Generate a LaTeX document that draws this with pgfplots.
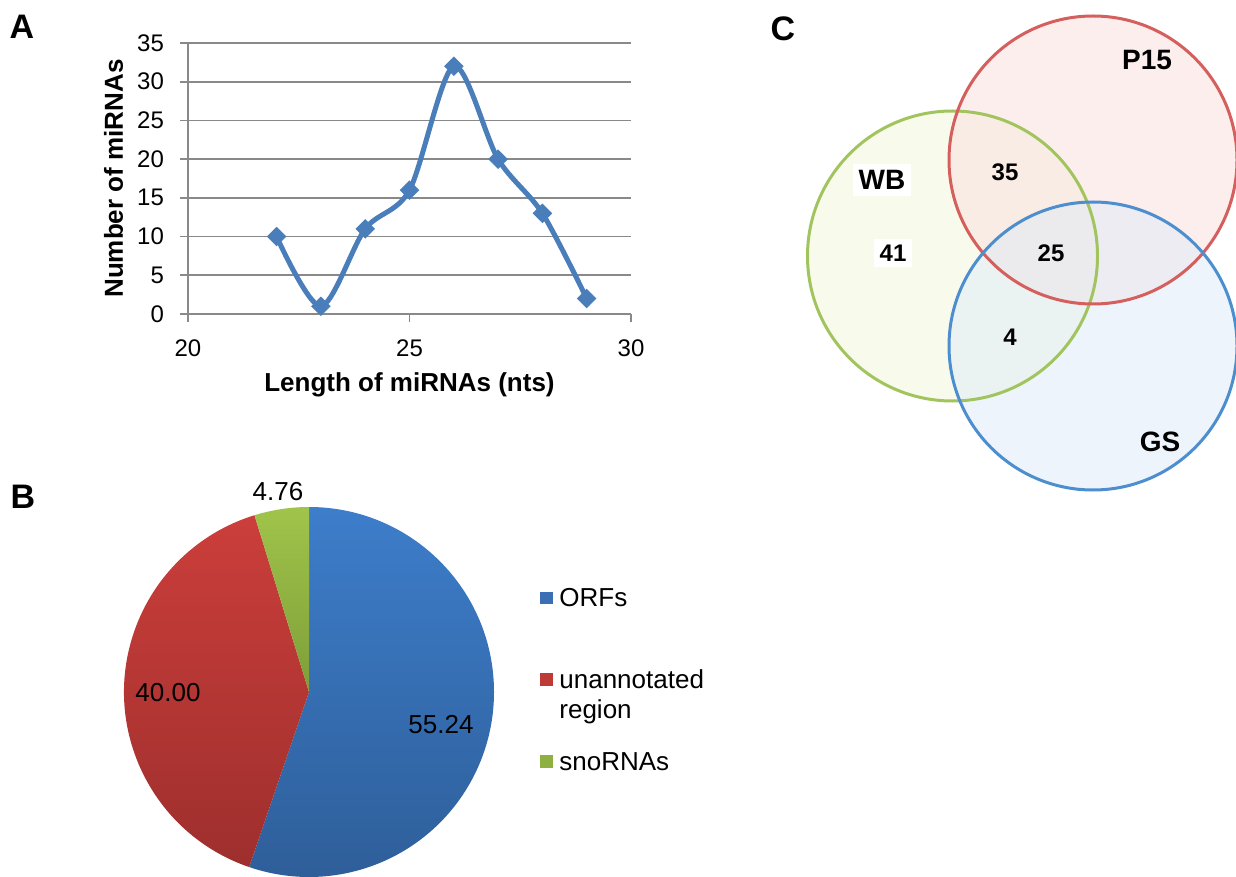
\documentclass[border=0pt]{standalone}
\usepackage{fontspec}
\setmainfont{Liberation Sans}
\usepackage{pgfplots}
\pgfplotsset{compat=1.18}
\definecolor{lineblue}{HTML}{4A7EBB}
\definecolor{gridgray}{HTML}{898989}
\definecolor{pieblueT}{HTML}{3D7DCA}
\definecolor{pieblueB}{HTML}{2E5E99}
\definecolor{pieredT}{HTML}{CB3E3B}
\definecolor{pieredB}{HTML}{9E2F2D}
\definecolor{piegreenT}{HTML}{A0C44B}
\definecolor{piegreenB}{HTML}{7E9E38}
\definecolor{legblue}{HTML}{3A6FB5}
\definecolor{legred}{HTML}{BE3A37}
\definecolor{leggreen}{HTML}{8DB040}
\definecolor{vred}{HTML}{D45F5C}
\definecolor{vgreen}{HTML}{A2C45E}
\definecolor{vblue}{HTML}{4D8ECF}
\definecolor{vredf}{HTML}{FADEDC}
\definecolor{vgreenf}{HTML}{F2F8DA}
\definecolor{vbluef}{HTML}{DDEAF8}
\begin{document}
\begin{tikzpicture}
\path[use as bounding box] (0,0) rectangle (618pt,-438.5pt);
% pie data (percent)
\def\vORF{55.24}\def\vUNA{40.00}\def\vSNO{4.76}
\pgfmathsetmacro{\aA}{90-3.6*\vORF}
\pgfmathsetmacro{\aB}{\aA-3.6*\vUNA}
\pgfmathsetmacro{\aC}{\aB-3.6*\vSNO}
% Panel A
\begin{axis}[
 at={(94pt,-157pt)}, anchor=south west,
 scale only axis, width=221.5pt, height=135.5pt,
 xmin=20, xmax=30, ymin=0, ymax=35,
 xtick={20,25,30}, ytick={0,5,...,35},
 axis x line*=bottom, axis y line*=left,
 axis line style={gridgray, line width=0.8pt},
 tick style={gridgray, line width=0.8pt},
 tick align=outside, major tick length=4pt,
 ymajorgrids, grid style={gridgray, line width=0.8pt},
 /pgf/number format/assume math mode=true,
 ticklabel style={font=\fontsize{12}{14}\selectfont},
 yticklabel style={xshift=-4.5pt},
 xticklabel style={yshift=-5.5pt},
 xlabel={Length of miRNAs (nts)}, ylabel={Number of miRNAs},
 label style={font=\fontsize{13}{15}\selectfont\bfseries},
 xlabel style={at={(axis description cs:0.5,-0.262)}, anchor=center},
 ylabel style={at={(axis description cs:-0.168,0.5)}, anchor=center},
 clip=false,
]
\addplot[lineblue, line width=2.5pt, smooth, mark=square*, mark size=3.2pt,
  mark options={rotate=45, fill=lineblue, draw=lineblue, line width=0.5pt}]
 coordinates {(22,10)(23,1)(24,11)(25,16)(26,32)(27,20)(28,13)(29,2)};
\end{axis}
% Panels B and C (pixel coordinates, y measured from bottom)
\begin{axis}[at={(0pt,-438.5pt)}, anchor=south west, x=0.5pt, y=0.5pt,
 xmin=0, xmax=1236, ymin=0, ymax=877, hide axis, clip=false]
 % panel letters
 \node[font=\fontsize{17}{20}\selectfont\bfseries] at (axis cs:22,850) {A};
 \node[font=\fontsize{17}{20}\selectfont\bfseries] at (axis cs:23,380) {B};
 \node[font=\fontsize{17}{20}\selectfont\bfseries] at (axis cs:783,848) {C};
 % pie
 \shade[top color=pieblueT, bottom color=pieblueB] (axis cs:309,185) -- ++(90:92.5pt) arc[start angle=90, end angle=\aA, radius=92.5pt] -- cycle;
 \shade[top color=pieredT, bottom color=pieredB] (axis cs:309,185) -- ++(\aA:92.5pt) arc[start angle=\aA, end angle=\aB, radius=92.5pt] -- cycle;
 \shade[top color=piegreenT, bottom color=piegreenB] (axis cs:309,185) -- ++(\aB:92.5pt) arc[start angle=\aB, end angle=\aC, radius=92.5pt] -- cycle;
 \node[font=\fontsize{13}{15}\selectfont] at (axis cs:278,385) {4.76};
 \node[font=\fontsize{13}{15}\selectfont] at (axis cs:168,184) {40.00};
 \node[font=\fontsize{13}{15}\selectfont] at (axis cs:441,152) {55.24};
 % legend
 \fill[legblue] (axis cs:540,273) rectangle (axis cs:553,285);
 \fill[legred] (axis cs:540,191) rectangle (axis cs:553,204);
 \fill[leggreen] (axis cs:540,109) rectangle (axis cs:553,122);
 \node[font=\fontsize{13}{15}\selectfont, anchor=base west, inner sep=0pt] at (axis cs:559,271) {ORFs};
 \node[font=\fontsize{13}{15}\selectfont, anchor=base west, inner sep=0pt] at (axis cs:559,189) {unannotated};
 \node[font=\fontsize{13}{15}\selectfont, anchor=base west, inner sep=0pt] at (axis cs:559,159) {region};
 \node[font=\fontsize{13}{15}\selectfont, anchor=base west, inner sep=0pt] at (axis cs:559,107) {snoRNAs};
 % Venn
 \fill[vgreenf, fill opacity=0.5] (axis cs:952.5,621) circle[radius=72.5pt];
 \fill[vredf, fill opacity=0.5] (axis cs:1093,717) circle[radius=72pt];
 \fill[vbluef, fill opacity=0.5] (axis cs:1093,531) circle[radius=72pt];
 \draw[vgreen, line width=1.5pt] (axis cs:952.5,621) circle[radius=72.5pt];
 \draw[vred, line width=1.5pt] (axis cs:1093,717) circle[radius=72pt];
 \draw[vblue, line width=1.5pt] (axis cs:1093,531) circle[radius=72pt];
 \node[font=\fontsize{14}{16}\selectfont\bfseries] at (axis cs:1147,817) {P15};
 \node[font=\fontsize{14}{16}\selectfont\bfseries, fill=white, inner sep=3pt] at (axis cs:882,697) {WB};
 \node[font=\fontsize{14}{16}\selectfont\bfseries] at (axis cs:1160,435) {GS};
 \node[font=\fontsize{12}{14}\selectfont\bfseries] at (axis cs:1005,705) {35};
 \node[font=\fontsize{12}{14}\selectfont\bfseries, fill=white, inner sep=3pt] at (axis cs:893,624) {41};
 \node[font=\fontsize{12}{14}\selectfont\bfseries] at (axis cs:1051,624) {25};
 \node[font=\fontsize{12}{14}\selectfont\bfseries] at (axis cs:1010,540) {4};
\end{axis}
\end{tikzpicture}
\end{document}
